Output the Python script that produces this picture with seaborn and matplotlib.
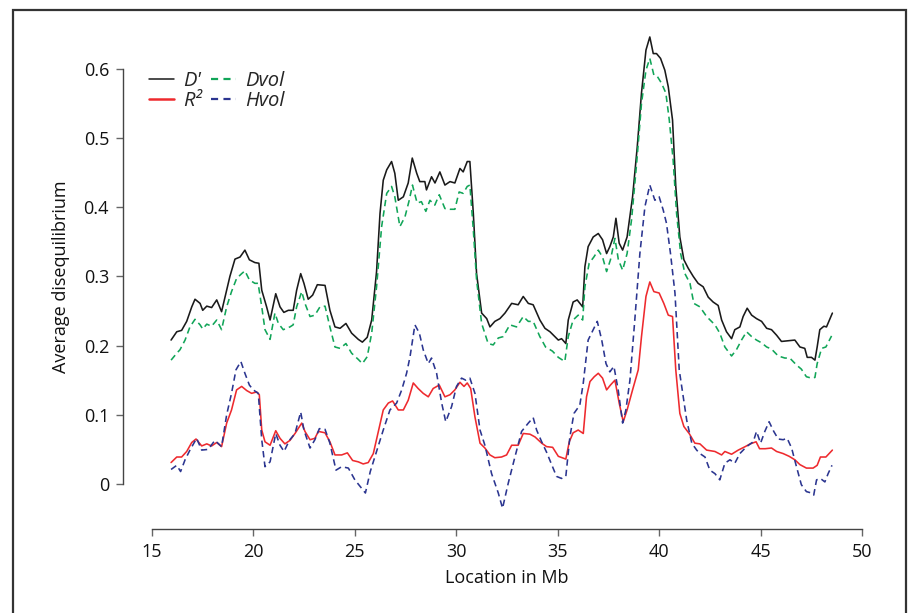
import numpy as np
import pandas as pd
import matplotlib
matplotlib.use("Agg")
import matplotlib.pyplot as plt
from matplotlib.lines import Line2D
from matplotlib.patches import Rectangle
import seaborn as sns

# ---------------- data ----------------
dprime_x = [15.94, 16.22, 16.46, 16.71, 16.96, 17.12, 17.37, 17.50, 17.70, 17.94, 18.19, 18.43, 18.68, 18.84,
            19.09, 19.34, 19.58, 19.80, 20.07, 20.27, 20.41, 20.65, 20.82, 21.10, 21.31, 21.50, 21.72, 21.96,
            22.13, 22.33, 22.49, 22.70, 22.92, 23.15, 23.53, 23.77, 24.02, 24.27, 24.56, 24.84, 25.17, 25.37,
            25.61, 25.83, 26.07, 26.24, 26.40, 26.57, 26.81, 26.97, 27.14, 27.39, 27.63, 27.83, 28.05, 28.20,
            28.45, 28.53, 28.78, 28.95, 29.19, 29.44, 29.69, 29.93, 30.18, 30.34, 30.54, 30.67, 30.84, 31.00,
            31.25, 31.50, 31.66, 31.90, 32.15, 32.40, 32.73, 33.05, 33.30, 33.55, 33.79, 34.12, 34.37, 34.62,
            34.86, 35.03, 35.19, 35.40, 35.52, 35.76, 35.96, 36.23, 36.34, 36.50, 36.75, 37.00, 37.21, 37.41,
            37.57, 37.74, 37.87, 38.03, 38.20, 38.42, 38.69, 38.92, 39.13, 39.35, 39.54, 39.71, 39.87, 40.07,
            40.28, 40.45, 40.66, 40.82, 41.02, 41.22, 41.43, 41.68, 41.92, 42.17, 42.42, 42.66, 42.91, 43.08,
            43.32, 43.57, 43.73, 43.98, 44.14, 44.34, 44.56, 44.80, 45.05, 45.30, 45.54, 45.79, 46.03, 46.36,
            46.69, 46.94, 47.18, 47.30, 47.51, 47.68, 47.79, 47.92, 48.12, 48.25, 48.54]
dprime_y = [.208, .220, .222, .235, .256, .267, .261, .251, .257, .255, .266, .249, .280, .300,
            .325, .328, .338, .324, .320, .319, .280, .256, .237, .275, .256, .248, .251, .251,
            .280, .304, .290, .267, .273, .288, .287, .251, .227, .225, .232, .218, .209, .205,
            .212, .237, .307, .391, .439, .454, .466, .449, .410, .415, .435, .471, .449, .437,
            .437, .425, .444, .435, .451, .432, .437, .435, .456, .451, .466, .466, .391, .304,
            .247, .239, .227, .235, .239, .247, .261, .259, .271, .261, .259, .237, .225, .220,
            .213, .208, .210, .203, .237, .263, .266, .256, .314, .343, .357, .362, .353, .333,
            .343, .357, .384, .348, .338, .357, .415, .487, .565, .627, .646, .622, .622, .615,
            .598, .574, .526, .430, .357, .324, .312, .300, .290, .285, .270, .263, .258, .237,
            .220, .210, .223, .227, .242, .254, .244, .239, .235, .225, .223, .215, .206, .207,
            .208, .198, .196, .183, .183, .179, .198, .223, .228, .227, .247]

dvol_x = [15.94, 16.22, 16.38, 16.63, 16.87, 17.12, 17.37, 17.50, 17.70, 17.94, 18.19, 18.43, 18.68, 18.92,
          19.17, 19.42, 19.58, 19.80, 20.07, 20.23, 20.41, 20.57, 20.82, 21.06, 21.23, 21.47, 21.80, 21.96,
          22.13, 22.38, 22.54, 22.79, 23.03, 23.28, 23.53, 23.77, 24.02, 24.27, 24.56, 24.84, 25.17, 25.37,
          25.61, 25.83, 26.07, 26.32, 26.57, 26.81, 26.97, 27.22, 27.47, 27.68, 27.84, 28.07, 28.28, 28.50,
          28.70, 28.94, 29.16, 29.44, 29.69, 29.93, 30.14, 30.34, 30.54, 30.67, 30.84, 31.00, 31.25, 31.57,
          31.82, 32.07, 32.31, 32.64, 32.97, 33.30, 33.55, 33.79, 34.12, 34.40, 34.74, 35.03, 35.35, 35.52,
          35.76, 36.01, 36.23, 36.34, 36.55, 36.78, 37.00, 37.21, 37.41, 37.60, 37.82, 37.99, 38.20, 38.42,
          38.64, 38.89, 39.13, 39.35, 39.54, 39.74, 39.91, 40.12, 40.33, 40.50, 40.69, 40.86, 41.06, 41.27,
          41.52, 41.71, 42.01, 42.34, 42.75, 42.99, 43.24, 43.57, 43.81, 44.06, 44.31, 44.56, 44.80, 45.05,
          45.30, 45.54, 45.87, 46.20, 46.44, 46.77, 47.01, 47.26, 47.51, 47.68, 47.79, 48.01, 48.22, 48.50]
dvol_y = [.179, .189, .194, .208, .227, .238, .230, .224, .231, .228, .237, .223, .256, .278,
          .297, .304, .308, .295, .290, .290, .256, .223, .209, .247, .232, .223, .227, .230,
          .256, .278, .261, .242, .244, .256, .257, .227, .198, .196, .203, .189, .180, .174,
          .184, .218, .285, .372, .420, .430, .415, .372, .386, .410, .432, .406, .408, .394,
          .410, .403, .418, .398, .397, .397, .422, .420, .430, .432, .367, .295, .232, .203,
          .201, .211, .213, .230, .227, .242, .235, .235, .213, .198, .192, .183, .177, .213,
          .237, .244, .237, .285, .319, .328, .338, .328, .307, .324, .355, .324, .309, .333,
          .382, .463, .550, .598, .615, .591, .589, .579, .565, .526, .468, .391, .333, .304,
          .290, .261, .256, .242, .230, .218, .198, .185, .194, .208, .220, .213, .208, .204,
          .198, .195, .185, .182, .182, .172, .166, .155, .153, .154, .174, .196, .198, .214]

r2_x = [15.94, 16.22, 16.46, 16.71, 16.96, 17.17, 17.45, 17.70, 17.94, 18.19, 18.43, 18.68, 18.92, 19.17,
        19.42, 19.67, 19.91, 20.16, 20.29, 20.41, 20.57, 20.82, 21.10, 21.31, 21.55, 21.80, 22.05, 22.38,
        22.54, 22.79, 23.03, 23.20, 23.53, 23.77, 24.02, 24.35, 24.63, 24.89, 25.17, 25.41, 25.66, 25.91,
        26.15, 26.40, 26.65, 26.86, 27.14, 27.39, 27.63, 27.88, 28.12, 28.37, 28.62, 28.86, 29.16, 29.44,
        29.69, 29.93, 30.18, 30.38, 30.54, 30.71, 30.92, 31.17, 31.41, 31.66, 31.90, 32.23, 32.48, 32.73,
        33.05, 33.30, 33.63, 33.88, 34.21, 34.45, 34.75, 35.03, 35.40, 35.57, 35.76, 36.01, 36.26, 36.42,
        36.59, 36.80, 37.00, 37.21, 37.41, 37.60, 37.82, 38.03, 38.23, 38.42, 38.69, 38.97, 39.13, 39.35,
        39.54, 39.74, 40.00, 40.23, 40.45, 40.66, 40.82, 41.02, 41.22, 41.48, 41.76, 42.01, 42.34, 42.75,
        43.08, 43.24, 43.57, 43.90, 44.24, 44.49, 44.78, 44.95, 45.23, 45.54, 45.79, 46.11, 46.41, 46.69,
        46.94, 47.26, 47.59, 47.79, 47.95, 48.22, 48.54]
r2_y = [.031, .039, .039, .047, .060, .065, .055, .058, .055, .060, .054, .088, .107, .136,
        .141, .135, .131, .133, .129, .078, .061, .056, .077, .066, .058, .063, .073, .088,
        .076, .064, .066, .076, .074, .061, .042, .042, .045, .034, .032, .029, .031, .044,
        .075, .107, .117, .120, .107, .107, .121, .146, .138, .131, .126, .138, .143, .126,
        .129, .136, .147, .141, .146, .138, .097, .059, .052, .042, .038, .039, .042, .056,
        .056, .073, .072, .068, .059, .054, .053, .040, .036, .061, .074, .078, .073, .126,
        .148, .155, .160, .153, .136, .143, .150, .117, .090, .107, .136, .165, .213, .271,
        .292, .278, .276, .261, .244, .242, .165, .102, .083, .073, .059, .058, .049, .047,
        .042, .047, .043, .049, .054, .058, .061, .051, .051, .052, .047, .044, .040, .035,
        .028, .023, .023, .027, .039, .039, .049]

hvol_x = [15.94, 16.22, 16.41, 16.63, 16.87, 17.20, 17.45, 17.77, 18.10, 18.43, 18.68, 18.92, 19.14, 19.38,
          19.58, 19.80, 19.99, 20.24, 20.41, 20.57, 20.82, 21.10, 21.31, 21.51, 21.77, 22.05, 22.33, 22.49,
          22.79, 23.03, 23.25, 23.53, 23.77, 24.07, 24.35, 24.68, 25.00, 25.33, 25.52, 25.76, 26.07, 26.40,
          26.73, 27.06, 27.31, 27.55, 27.72, 27.96, 28.18, 28.37, 28.62, 28.78, 29.03, 29.28, 29.48, 29.77,
          30.01, 30.26, 30.47, 30.67, 30.92, 31.17, 31.41, 31.74, 32.07, 32.28, 32.56, 32.89, 33.22, 33.55,
          33.79, 33.96, 34.21, 34.45, 34.70, 34.94, 35.19, 35.40, 35.60, 35.80, 36.09, 36.26, 36.50, 36.75,
          36.95, 37.17, 37.38, 37.57, 37.77, 37.98, 38.20, 38.36, 38.56, 38.80, 39.05, 39.30, 39.54, 39.79,
          40.00, 40.20, 40.36, 40.56, 40.78, 40.99, 41.19, 41.36, 41.61, 41.85, 42.01, 42.26, 42.50, 42.75,
          42.99, 43.24, 43.49, 43.73, 43.98, 44.31, 44.64, 44.80, 45.00, 45.21, 45.42, 45.65, 45.87, 46.11,
          46.31, 46.53, 46.77, 47.01, 47.26, 47.51, 47.62, 47.76, 47.95, 48.17, 48.33, 48.52]
hvol_y = [.021, .027, .018, .035, .049, .066, .049, .050, .063, .054, .100, .131, .165, .177,
          .160, .143, .136, .131, .064, .025, .032, .073, .056, .047, .063, .073, .104, .078,
          .052, .064, .080, .079, .059, .020, .025, .023, .006, -.006, -.013, .018, .047, .078,
          .107, .117, .136, .160, .184, .230, .218, .194, .174, .182, .160, .117, .090, .112,
          .141, .153, .150, .153, .131, .078, .056, .015, -.013, -.035, .001, .039, .076, .088,
          .096, .078, .061, .046, .028, .011, .008, .011, .068, .102, .114, .146, .208, .223,
          .235, .208, .174, .162, .170, .136, .088, .107, .150, .237, .333, .401, .432, .410,
          .415, .396, .377, .333, .276, .165, .126, .092, .059, .049, .044, .039, .020, .015,
          .006, .030, .035, .030, .044, .054, .061, .076, .059, .076, .090, .076, .065, .064,
          .066, .052, .025, -.001, -.011, -.013, -.016, .006, .008, .003, .015, .027]

x_ticks = [15, 20, 25, 30, 35, 40, 45, 50]
y_ticks = [0, 0.1, 0.2, 0.3, 0.4, 0.5, 0.6]
y_tick_labels = ["0", "0.1", "0.2", "0.3", "0.4", "0.5", "0.6"]
x_label = "Location in Mb"
y_label = "Average disequilibrium"
legend_labels = ["D'", "R²", "Dvol", "Hvol"]

# ---------------- style ----------------
sns.set_style("ticks")
plt.rcParams["font.family"] = ["Open Sans", "DejaVu Sans"]
plt.rcParams["font.size"] = 13

W, H = 909, 613
fig = plt.figure(figsize=(W / 100, H / 100), dpi=100)

ylo, yhi = -0.06, 0.66
x0_px, x1_px = 152, 862
def ypx(v):
    return 484 - 692 * v
ax = fig.add_axes([x0_px / W, 1 - ypx(ylo) / H, (x1_px - x0_px) / W, (ypx(ylo) - ypx(yhi)) / H])
ax.set_xlim(15, 50)
ax.set_ylim(ylo, yhi)

col_d = "#1a1a1a"
col_r = "#ee2a2e"
col_dv = "#11a558"
col_hv = "#2b3590"

series = [
    (dprime_x, dprime_y, col_d, "-"),
    (r2_x, r2_y, col_r, "-"),
    (dvol_x, dvol_y, col_dv, (0, (4.0, 2.6))),
    (hvol_x, hvol_y, col_hv, (0, (4.0, 2.6))),
]
for xs, ys, c, ls in series:
    df = pd.DataFrame({"x": xs, "y": ys})
    sns.lineplot(data=df, x="x", y="y", ax=ax, color=c, linestyle=ls, linewidth=1.15,
                 estimator=None, sort=False, legend=False)

# spines (R style)
sns.despine(ax=ax)
ax.spines["left"].set_position(("outward", 29 * 0.72))
ax.spines["bottom"].set_position(("outward", (529 - ypx(ylo)) * 0.72))
ax.spines["left"].set_bounds(0, 0.6)
ax.spines["bottom"].set_bounds(15, 50)
for s in ("left", "bottom"):
    ax.spines[s].set_color("#444444")
    ax.spines[s].set_linewidth(1.0)
ax.set_xticks(x_ticks)
ax.set_yticks(y_ticks)
ax.set_yticklabels(y_tick_labels)
ax.tick_params(axis="both", direction="out", length=5, width=1.0, color="#666666",
               labelsize=13, labelcolor="#111111", pad=5)
ax.set_xlabel(x_label, fontsize=13, color="#111111", labelpad=6)
ax.set_ylabel(y_label, fontsize=13, color="#111111", labelpad=10)

# legend
handles = [
    Line2D([], [], color=col_d, lw=1.1),
    Line2D([], [], color=col_r, lw=1.8),
    Line2D([], [], color=col_dv, lw=1.6, linestyle=(0, (3.2, 2.4))),
    Line2D([], [], color=col_hv, lw=1.6, linestyle=(0, (3.2, 2.4))),
]
leg = ax.legend(handles, legend_labels, ncol=2, frameon=False, loc="upper left",
                bbox_to_anchor=(149 / W, 1 - 71 / H), bbox_transform=fig.transFigure,
                borderaxespad=0, borderpad=0, handlelength=1.25, handletextpad=0.45,
                columnspacing=0.45, labelspacing=0.0,
                prop={"style": "italic", "size": 14.5})

# outer frame
fig.patches.append(Rectangle((13 / W, -0.02), (906 - 13) / W, 1.02 - 10 / H,
                             transform=fig.transFigure, fill=False,
                             edgecolor="#333333", linewidth=1.6))

fig.savefig("out.png", dpi=100)
